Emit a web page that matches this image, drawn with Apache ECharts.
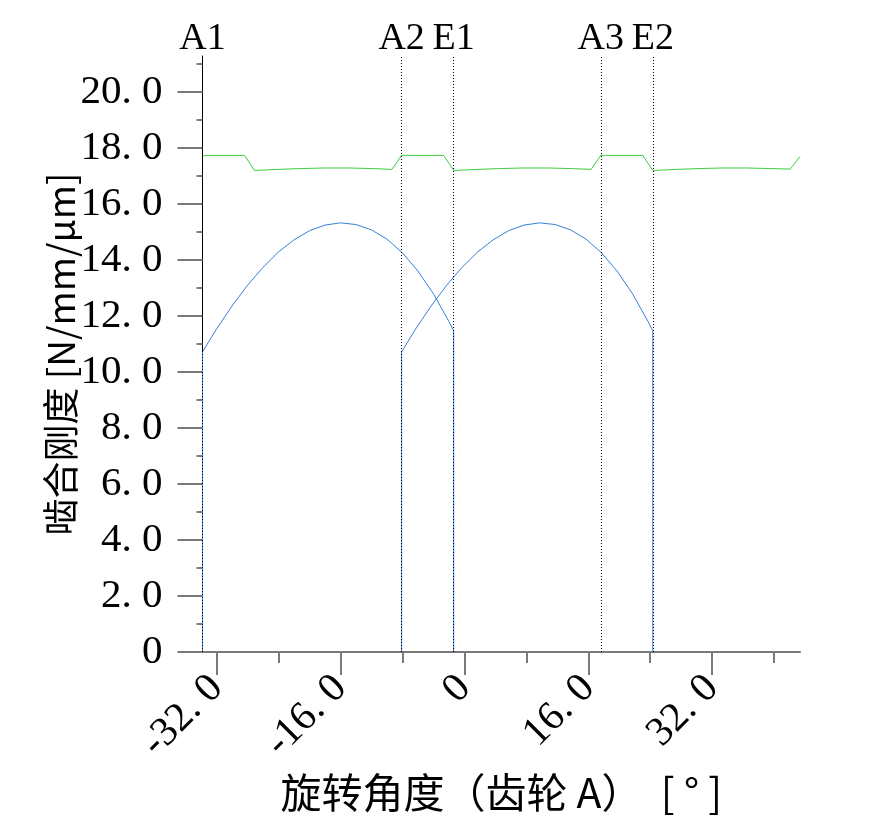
<!DOCTYPE html>
<html><head><meta charset="utf-8">
<script src="https://cdn.jsdelivr.net/npm/echarts@6/dist/echarts.min.js"></script>
<style>html,body{margin:0;padding:0;background:#fff}#c{width:871px;height:833px}</style>
</head><body><div id="c"></div>
<script>
// Tooth pair 1 (enters at A1, leaves at E1)
const pair1Angle = [-33.81, -33.81, -32, -30, -28, -26, -24, -22, -20, -18, -16, -14, -12, -10, -8, -6, -4, -2, -1.38, -1.38];
const pair1Stiff = [0, 10.72, 11.54, 12.36, 13.10, 13.74, 14.29, 14.72, 15.05, 15.25, 15.33, 15.27, 15.08, 14.75, 14.26, 13.61, 12.80, 11.81, 11.48, 0];
// Tooth pair 2 (enters at A2, leaves at E2)
const pair2Angle = [-8.10, -8.10, -6.29, -4.29, -2.29, -0.29, 1.71, 3.71, 5.71, 7.71, 9.71, 11.71, 13.71, 15.71, 17.71, 19.71, 21.71, 23.71, 24.33, 24.33];
const pair2Stiff = [0, 10.72, 11.54, 12.36, 13.10, 13.74, 14.29, 14.72, 15.05, 15.25, 15.33, 15.27, 15.08, 14.75, 14.26, 13.61, 12.80, 11.81, 11.48, 0];
// Total mesh stiffness
const totalAngle = [-33.81, -33.5, -28.38, -27.09, -24, -21, -18, -15, -12, -9.35, -8.10, -2.67, -1.38, 1.71, 4.71, 7.71, 10.71, 13.71, 16.37, 17.62, 23.04, 24.33, 27.42, 30.42, 33.42, 36.42, 39.42, 42.08, 43.34];
const totalStiff = [17.70, 17.74, 17.74, 17.20, 17.24, 17.27, 17.29, 17.29, 17.27, 17.24, 17.74, 17.74, 17.20, 17.24, 17.27, 17.29, 17.29, 17.27, 17.24, 17.74, 17.74, 17.20, 17.24, 17.27, 17.29, 17.29, 17.27, 17.25, 17.70];
// Markers
const markerNames = ['A1', 'A2', 'E1', 'A3', 'E2'];
const markerAngles = [-33.81, -8.10, -1.38, 17.62, 24.33];
// Ticks
const xTicks = [-32, -16, 0, 16, 32];
const xMinorTicks = [-24, -8, 8, 24, 40];
const yTicks = [0, 2, 4, 6, 8, 10, 12, 14, 16, 18, 20];
const yMinorTicks = [1, 3, 5, 7, 9, 11, 13, 15, 17, 19, 21];

const X_MIN = -33.81, X_MAX = 43.34, Y_MIN = 0, Y_MAX = 21.29;
const zip = (a, b) => a.map((v, i) => [v, b[i]]);
const fmt = v => v === 0 ? '0' : v.toFixed(1).replace('.', '. ');
const SERIF = 'Liberation Serif';
const CJK = 'Noto Sans CJK SC';

const chart = echarts.init(document.getElementById('c'), null, {renderer: 'canvas'});
chart.setOption({
  animation: false,
  backgroundColor: '#fff',
  grid: {left: 202.5, right: 71, top: 56, bottom: 181, containLabel: false},
  xAxis: [{
    type: 'value', min: X_MIN, max: X_MAX, position: 'bottom',
    name: '旋转角度（齿轮 A）  [ ° ]', nameLocation: 'middle', nameGap: 120,
    nameTextStyle: {fontFamily: CJK, fontSize: 41, color: '#000'},
    axisLine: {show: true, onZero: false, lineStyle: {color: '#7a7a7a', width: 2}},
    axisTick: {show: true, customValues: xTicks, length: 23, lineStyle: {color: '#7a7a7a', width: 2}},
    axisLabel: {show: true, customValues: xTicks, rotate: 45, margin: 30, formatter: fmt,
      fontFamily: SERIF, fontSize: 41, color: '#000'},
    splitLine: {show: false}
  }, {
    type: 'value', min: X_MIN, max: X_MAX, position: 'bottom',
    axisLine: {show: false, onZero: false},
    axisTick: {show: true, customValues: xMinorTicks, length: 11, lineStyle: {color: '#7a7a7a', width: 2}},
    axisLabel: {show: false},
    splitLine: {show: false}
  }],
  yAxis: [{
    type: 'value', min: Y_MIN, max: Y_MAX, position: 'left',
    name: '啮合刚度 [N/mm/μm]', nameLocation: 'middle', nameGap: 123, nameRotate: 90,
    nameMoveOverlap: false,
    nameTextStyle: {fontFamily: CJK, fontSize: 37, color: '#000'},
    axisLine: {show: true, onZero: false, lineStyle: {color: '#000', width: 1}},
    axisTick: {show: true, customValues: yTicks, length: 25, lineStyle: {color: '#7a7a7a', width: 2}},
    axisLabel: {show: true, customValues: yTicks, margin: 40, formatter: fmt,
      fontFamily: SERIF, fontSize: 41, color: '#000'},
    splitLine: {show: false}
  }, {
    type: 'value', min: Y_MIN, max: Y_MAX, position: 'left',
    axisLine: {show: false, onZero: false},
    axisTick: {show: true, customValues: yMinorTicks, length: 6, lineStyle: {color: '#7a7a7a', width: 2}},
    axisLabel: {show: false},
    splitLine: {show: false}
  }],
  series: [{
    type: 'line', xAxisIndex: 0, yAxisIndex: 0, data: zip(pair1Angle, pair1Stiff),
    symbol: 'none', lineStyle: {color: '#3580d8', width: 1}, z: 2
  }, {
    type: 'line', xAxisIndex: 0, yAxisIndex: 0, data: zip(pair2Angle, pair2Stiff),
    symbol: 'none', lineStyle: {color: '#3580d8', width: 1}, z: 2
  }, {
    type: 'line', xAxisIndex: 0, yAxisIndex: 0, data: zip(totalAngle, totalStiff),
    symbol: 'none', lineStyle: {color: '#3fcc3f', width: 1}, z: 2
  }, {
    type: 'line', xAxisIndex: 0, yAxisIndex: 0, data: [], z: 5,
    markLine: {
      silent: true, symbol: ['none', 'none'], animation: false,
      lineStyle: {type: [1, 2], color: '#000', width: 1},
      label: {show: true, position: 'end', formatter: '{b}', distance: -2,
        fontFamily: SERIF, fontSize: 38, color: '#000'},
      emphasis: {disabled: true},
      data: markerNames.map((n, i) => ({name: n, xAxis: markerAngles[i]}))
    }
  }]
});
</script>
</body></html>
